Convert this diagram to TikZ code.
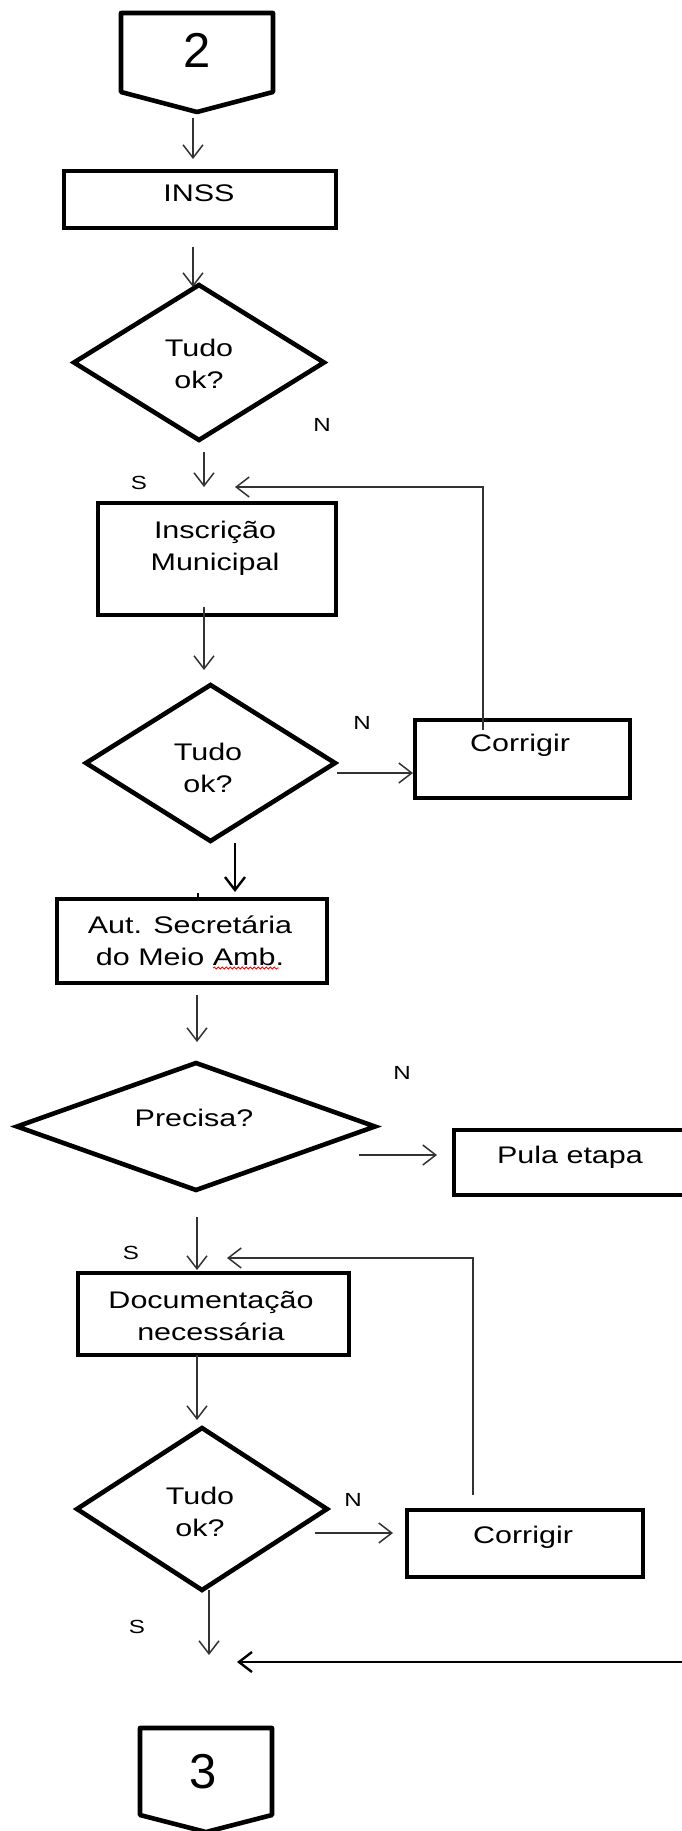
\documentclass[tikz,border=0pt]{standalone}
\usepackage{fontspec}
\setmainfont{Liberation Sans}[FakeStretch=1.27]
\newfontfamily\digitfont{Liberation Sans}
\usetikzlibrary{arrows.meta,shapes.geometric,decorations.pathmorphing,calc}

\begin{document}
\begin{tikzpicture}[x=1pt,y=-1pt,
  box/.style={draw=black, line width=4.6pt, rectangle, inner sep=0pt, outer sep=0pt},
  decision/.style={draw=black, line width=4.6pt, diamond, inner sep=0pt, outer sep=0pt},
  frame/.style={rectangle, inner sep=0pt, outer sep=0pt},
  lbl/.style={font=\fontsize{24}{32}\selectfont, align=center, inner sep=0pt},
  digit/.style={font=\digitfont\fontsize{49}{49}\selectfont, inner sep=0pt},
  yn/.style={font=\fontsize{19}{19}\selectfont, inner sep=0pt},
  flow/.style={draw=black!80, line width=1.5pt, -{Straight Barb[length=13pt,width=20pt]}},
  heavy/.style={draw=black, line width=2.4pt, -{Straight Barb[length=13pt,width=20pt]}},
  pent/.style={draw=black, line width=4.6pt, line join=round},
]
\useasboundingbox (0,0) rectangle (682,1831);
\fill[white] (0,0) rectangle (682,1831);
\clip (0,0) rectangle (682,1831);

% off-page connector 2
\node[frame, minimum width=152pt, minimum height=99pt] (c2) at (197,62.5) {};
\draw[pent] (c2.north west) -- (c2.north east) -- ($(c2.south east)+(0,-20)$)
  -- (c2.south) -- ($(c2.south west)+(0,-20)$) -- cycle;
\node[digit] (c2t) at (197,50) {2};

% INSS
\node[box, minimum width=272pt, minimum height=57pt] (inss) at (200,199.5) {};
\node[lbl] (insst) at (199,193) {INSS};

% first check
\node[decision, minimum width=250pt, minimum height=155pt] (d1) at (199,362.5) {};
\node[lbl] (d1t) at (199,364) {Tudo\\ok?};
\node[yn] (n1) at (322,425) {N};
\node[yn] (s1) at (139,483) {S};

% Inscrição Municipal
\node[box, minimum width=238pt, minimum height=112pt] (insc) at (217,559) {};
\node[lbl] (insct) at (215,548) {Inscrição\\Municipal};

% second check
\node[decision, minimum width=249pt, minimum height=156pt] (d2) at (210.5,763) {};
\node[lbl] (d2t) at (208,768) {Tudo\\ok?};
\node[yn] (n2) at (362,723) {N};

\node[box, minimum width=215pt, minimum height=78pt] (corr1) at (522.5,759) {};
\node[lbl] (corr1t) at (520,745) {Corrigir};

% Aut. Secretária do Meio Amb.
\node[box, minimum width=270pt, minimum height=84pt] (aut) at (192,941) {};
\node[lbl] (autt) at (190,941) {Aut. Secretária\\do Meio Amb.};
\draw[red, line width=0.8pt, decorate,
  decoration={snake, amplitude=1.1pt, segment length=4pt}] (213,968) -- (279,968);

% Precisa?
\node[decision, minimum width=358pt, minimum height=127pt] (prec) at (196,1126.5) {};
\node[lbl] (prect) at (194,1118) {Precisa?};
\node[yn] (n3) at (402,1073) {N};

\node[box, minimum width=246pt, minimum height=65pt] (pula) at (577,1162.5) {};
\node[lbl] (pulat) at (570,1157) {Pula etapa};

% Documentação necessária
\node[yn] (s2) at (131,1253) {S};
\node[box, minimum width=271pt, minimum height=82pt] (doc) at (213.5,1314) {};
\node[lbl] (doct) at (211,1316) {Documentação\\necessária};

% third check
\node[decision, minimum width=250pt, minimum height=162pt] (d3) at (202,1509) {};
\node[lbl] (d3t) at (200,1512) {Tudo\\ok?};
\node[yn] (n4) at (353,1500) {N};

\node[box, minimum width=236pt, minimum height=67pt] (corr2) at (525,1543.5) {};
\node[lbl] (corr2t) at (523,1537) {Corrigir};

\node[yn] (s3) at (137,1627) {S};

% off-page connector 3
\node[frame, minimum width=132pt, minimum height=104pt] (c3) at (206,1780) {};
\draw[pent] (c3.north west) -- (c3.north east) -- ($(c3.south east)+(0,-17)$)
  -- (c3.south) -- ($(c3.south west)+(0,-17)$) -- cycle;
\node[digit] (c3t) at (203,1772) {3};

% free ends at the bottom
\coordinate (joinS) at (209,1655);
\coordinate (joinE) at (237,1662);
\coordinate (skip) at (700,1662);

% connectors
\draw[flow] ($(c2.south)+(-4,6)$) -- ($(inss.north)+(-7,-12)$);
\draw[flow] ($(inss.south)+(-7,19)$) -- ($(d1.north)+(-6,2)$);
\draw[flow] ($(d1.south)+(5,12)$) -- ($(insc.north)+(-13,-16)$);
\draw[flow] ($(corr1.north)+(-39.5,10)$) |- ($(insc.north)+(18,-16)$);
\draw[flow] ($(insc.south)+(-13,-8)$) -- ($(d2.north)+(-6.5,-15)$);
\draw[flow] ($(d2.east)+(2,10)$) -- ($(corr1.west)+(-2,14)$);
\draw[heavy] ($(d2.south)+(24.5,2)$) -- ($(aut.north)+(43,-7)$);
\draw[line width=2.5pt] ($(aut.north)+(6,-6)$) -- ($(aut.north)+(6,0)$);
\draw[flow] ($(aut.south)+(5,12)$) -- ($(prec.north)+(1,-21)$);
\draw[flow] ($(prec.east)+(-16,28.5)$) -- ($(pula.west)+(-17,-7.5)$);
\draw[flow] ($(prec.south)+(1,27)$) -- ($(doc.north)+(-16.5,-3)$);
\draw[flow] ($(corr2.north)+(-52,-15)$) |- ($(doc.north)+(13.5,-15)$);
\draw[flow] ($(doc.south)+(-16.5,0)$) -- ($(d3.north)+(-5,-8)$);
\draw[flow] ($(d3.east)+(-12,24)$) -- ($(corr2.west)+(-14,-10.5)$);
\draw[flow] ($(d3.south)+(7,0)$) -- (joinS);
\draw[heavy] (skip) -- (joinE);
\end{tikzpicture}
\end{document}
